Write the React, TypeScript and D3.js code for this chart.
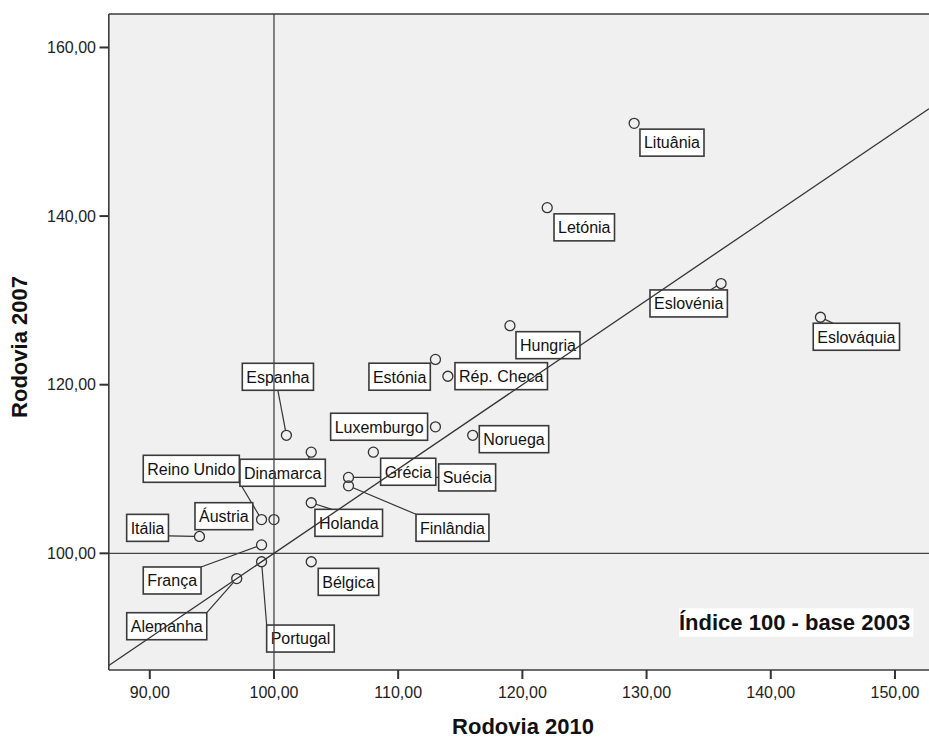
import React from "react";
import * as d3 from "d3";

const countries = ["Lituânia","Letónia","Eslovénia","Eslováquia","Hungria","Estónia","Rép. Checa","Luxemburgo","Noruega","Espanha","Dinamarca","Grécia","Suécia","Finlândia","Holanda","Reino Unido","Áustria","Itália","França","Bélgica","Portugal","Alemanha"];
const rodovia2010 = [129,122,136,144,119,113,114,113,116,101,103,108,106,106,103,99,100,94,99,103,99,97];
const rodovia2007 = [151,141,132,128,127,123,121,115,114,114,112,112,109,108,106,104,104,102,101,99,99,97];
const xTicks = [90,100,110,120,130,140,150];
const yTicks = [100,120,140,160];
const referenceValue = 100;
const annotation = "Índice 100 - base 2003";

// label layout (pixel offsets of label box top-left from its point)
const labelOffsets: [number, number][] = [
  [5.8,5.8],[6.8,6.2],[-71.1,6.4],[-7.2,6],[6,6],[-66.5,3.8],[7.1,-13.6],[-104.8,-13.6],[6.6,-9.6],
  [-44.1,-72],[-71.3,7.1],[7.3,6.1],[90.2,-13.5],[67.5,28.4],[3.7,6.6],[-118.3,-64.3],[-79,-16.9],
  [-72.8,-22.1],[-118.3,22.1],[7,6.6],[5.1,63.3],[-110,34.1]
];
// leader attachment point on the box (fractions), null = none
const leaderAttach: ([number, number] | null)[] = [
  null,null,[0.78,0],[0.23,0],null,null,null,null,null,
  [0.5,1],[0.8,0],null,[0,0.5],[0,0],[0.25,0],[1,1],null,
  [1,0.8],[1,0],null,[0,0],[1,0]
];

const W = 929, H = 738;
const FONT = "'Liberation Sans', Arial, sans-serif";

let ctx: CanvasRenderingContext2D | null = null;
function measure(t: string, font: string) {
  if (!ctx) ctx = document.createElement("canvas").getContext("2d");
  if (!ctx) return t.length * 8;
  ctx.font = font;
  return ctx.measureText(t).width;
}

export default function App() {
  const x = d3.scaleLinear().domain([86.7, 152.74]).range([108.8, 929]);
  const y = d3.scaleLinear().domain([86.16, 163.97]).range([670, 14]);
  const fmt = (v: number) => d3.format(".2f")(v).replace(".", ",");
  const [x0, x1] = x.domain();
  const r = 5;
  const boxH = 27;

  const labels = countries.map((c, i) => {
    const px = x(rodovia2010[i]);
    const py = y(rodovia2007[i]);
    const w = measure(c, `16px ${FONT}`) + 8;
    const left = px + labelOffsets[i][0];
    const top = py + labelOffsets[i][1];
    const att = leaderAttach[i];
    let leader = null as null | { x1: number; y1: number; x2: number; y2: number };
    if (att) {
      const ax = left + att[0] * w;
      const ay = top + att[1] * boxH;
      const dx = ax - px, dy = ay - py;
      const len = Math.hypot(dx, dy) || 1;
      leader = { x1: px + (dx / len) * r, y1: py + (dy / len) * r, x2: ax, y2: ay };
    }
    return { c, px, py, w, left, top, leader };
  });

  return (
    <svg width={W} height={H} style={{ position: "absolute", left: 0, top: 0, background: "#fff" }} fontFamily={FONT}>
      <rect x={x.range()[0]} y={y.range()[1]} width={x.range()[1] - x.range()[0]} height={y.range()[0] - y.range()[1]} fill="#f0f0f0" />
      {/* leaders */}
      {labels.map((l, i) => l.leader ? (
        <line key={"ld" + i} x1={l.leader.x1} y1={l.leader.y1} x2={l.leader.x2} y2={l.leader.y2} stroke="#333" strokeWidth={1.2} />
      ) : null)}
      {/* label boxes */}
      {labels.map((l, i) => (
        <g key={"lb" + i}>
          <rect x={l.left} y={l.top} width={l.w} height={boxH} fill="#fff" stroke="#3a3a3a" strokeWidth={1.6} />
          <text x={l.left + l.w / 2} y={l.top + 19.3} textAnchor="middle" fontSize={16} fill="#111">{l.c}</text>
        </g>
      ))}
      {/* points */}
      {labels.map((l, i) => (
        <circle key={"pt" + i} cx={l.px} cy={l.py} r={r} fill="none" stroke="#333" strokeWidth={1.3} />
      ))}
      {/* reference lines */}
      <line x1={x(referenceValue)} x2={x(referenceValue)} y1={y.range()[1]} y2={y.range()[0]} stroke="#444" strokeWidth={1.3} />
      <line x1={x.range()[0]} x2={x.range()[1]} y1={y(referenceValue)} y2={y(referenceValue)} stroke="#444" strokeWidth={1.3} />
      <line x1={x(x0)} y1={y(x0)} x2={x(x1)} y2={y(x1)} stroke="#333" strokeWidth={1.3} />
      {/* frame */}
      <line x1={x.range()[0]} x2={W} y1={y.range()[1]} y2={y.range()[1]} stroke="#3c3c3c" strokeWidth={1.6} />
      <line x1={x.range()[0]} x2={x.range()[0]} y1={y.range()[1]} y2={y.range()[0]} stroke="#3c3c3c" strokeWidth={1.6} />
      <line x1={x.range()[0]} x2={W} y1={y.range()[0]} y2={y.range()[0]} stroke="#3c3c3c" strokeWidth={1.6} />
      {/* x axis */}
      {xTicks.map(t => (
        <g key={"xt" + t}>
          <line x1={x(t)} x2={x(t)} y1={670} y2={679} stroke="#333" strokeWidth={2} />
          <text x={x(t)} y={698} textAnchor="middle" fontSize={16} fill="#222">{fmt(t)}</text>
        </g>
      ))}
      {/* y axis */}
      {yTicks.map(t => (
        <g key={"yt" + t}>
          <line x1={99.5} x2={108.8} y1={y(t)} y2={y(t)} stroke="#333" strokeWidth={2} />
          <text x={96} y={y(t)} dy="0.35em" textAnchor="end" fontSize={16} fill="#222">{fmt(t)}</text>
        </g>
      ))}
      <text x={523} y={734} textAnchor="middle" fontSize={22} fontWeight="bold" fill="#111">Rodovia 2010</text>
      <text transform="translate(27,347) rotate(-90)" textAnchor="middle" fontSize={22} fontWeight="bold" fill="#111">Rodovia 2007</text>
      {/* annotation */}
      <rect x={679} y={608.3} width={234.3} height={28.4} fill="#fff" />
      <text x={679} y={630} fontSize={22} fontWeight="bold" fill="#111">{annotation}</text>
    </svg>
  );
}
